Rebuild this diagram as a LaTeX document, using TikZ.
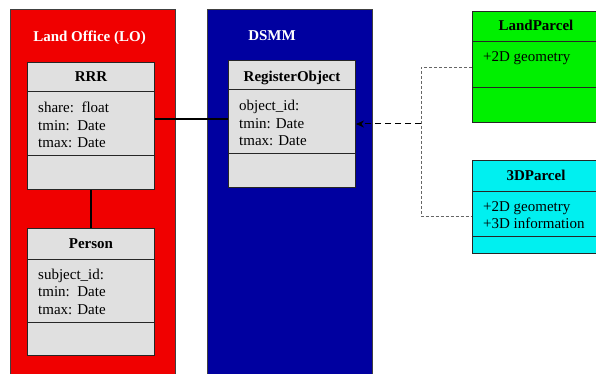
\documentclass[tikz,border=0pt]{standalone}
\usepackage{fontspec}
\setmainfont{Liberation Serif}
\usetikzlibrary{arrows.meta}

\definecolor{loRed}{RGB}{240,0,0}
\definecolor{dsmmBlue}{RGB}{0,0,160}
\definecolor{clsGray}{RGB}{224,224,224}
\definecolor{lpGreen}{RGB}{0,240,0}
\definecolor{pcCyan}{RGB}{0,240,240}

\tikzset{
  pkg/.style={draw=black!75, line width=0.8pt, anchor=north west, minimum width=165pt, minimum height=380pt, inner sep=0pt},
  cls/.style={draw=black!85, line width=1pt, fill=clsGray, anchor=north west, minimum width=127pt, inner sep=0pt},
  ttl/.style={font=\fontsize{15}{17.5}\selectfont\bfseries, anchor=base, inner sep=0pt},
  attr/.style={font=\fontsize{15}{17.5}\selectfont, anchor=base west, inner sep=0pt},
  pkgttl/.style={ttl, text=white}
}

\begin{document}
\begin{tikzpicture}[x=1pt, y=-1pt, >={Stealth[length=8pt,width=7pt]}]
    \useasboundingbox (0,0) rectangle (596,374);

    % packages
    \node[pkg, fill=loRed] (lo) at (10,9) {};
    \node[pkg, fill=dsmmBlue] (dsmm) at (207,9) {};
    \node[pkgttl] (lottl) at (89.5,42) {Land Office (LO)};
    \node[pkgttl] (dsmmttl) at (272,41) {DSMM};

    % classes
    \node[cls, minimum height=127pt] (rrr) at (27,62) {};
    \node[cls, minimum height=127pt] (person) at (27,228) {};
    \node[cls, minimum height=127pt] (regobj) at (228,60) {};
    \node[cls, fill=lpGreen, minimum height=111pt] (landparcel) at (472,11) {};
    \node[cls, fill=pcCyan, minimum height=93pt] (parcel3d) at (472,160) {};

    \foreach \n/\a/\b in {rrr/30/94, person/31/94, regobj/30/94, landparcel/31/77, parcel3d/31/76} {
      \draw[line width=1pt, black!85] ([yshift=-\a pt]\n.north west) -- ([yshift=-\a pt]\n.north east);
      \draw[line width=1pt, black!85] ([yshift=-\b pt]\n.north west) -- ([yshift=-\b pt]\n.north east);
    }

    \foreach \n/\t/\d in {rrr/RRR/20, person/Person/20, regobj/RegisterObject/22, landparcel/LandParcel/20, parcel3d/3DParcel/20}
    \node[ttl] (\n-ttl) at ([yshift=-\d pt]\n.north) {\t};

    \foreach \n/\l in {rrr/{share:~~float,tmin:~~Date,tmax: Date},
                       person/{subject\_id:,tmin:~~Date,tmax: Date},
                       regobj/{object\_id:,tmin: Date,tmax: Date},
                       landparcel/{+2D geometry},
                       parcel3d/{+2D geometry,+3D information}}
    \foreach \t [count=\i] in \l
    \node[attr] (\n-a\i) at ([xshift=11pt, yshift={-(51+17.5*(\i-1))*1pt}]\n.north west) {\t};

    % connectors
    \coordinate (lnk) at ([yshift=7pt]rrr.east);
    \draw[line width=1.2pt] (lnk) -- (lnk -| regobj.west);
    \draw[line width=1.2pt] (rrr.south) -- (person.north);

    \coordinate (jn) at (421,122);
    \coordinate (p3d) at ([yshift=-9.5pt]parcel3d.west);
    \draw[black!60, dash pattern=on 3pt off 2pt, line width=0.6pt] (landparcel.west) -- (jn |- landparcel.west) -- (jn |- p3d) -- (p3d);
    \draw[dash pattern=on 6pt off 4pt, line width=1pt, ->] (regobj.east -| jn) -- (regobj.east);
\end{tikzpicture}
\end{document}
